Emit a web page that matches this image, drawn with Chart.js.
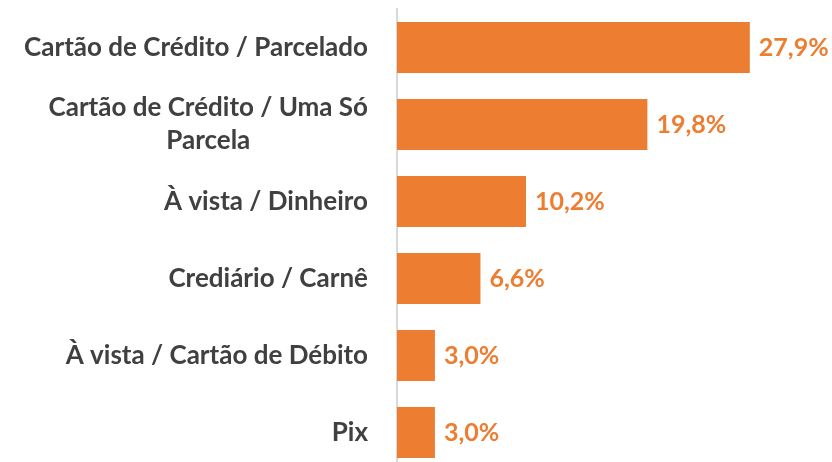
<!DOCTYPE html>
<html>
<head>
<meta charset="utf-8">
<script src="https://cdn.jsdelivr.net/npm/chart.js@4.4.1/dist/chart.umd.min.js"></script>
<style>
  html, body { margin: 0; padding: 0; background: #fff; overflow: hidden; }
  #wrap { position: relative; width: 832px; height: 471px; }
</style>
</head>
<body>
<div id="wrap"><canvas id="myChart"></canvas></div>
<script>
var categories = [
    'Cartão de Crédito / Parcelado',
    ['Cartão de Crédito / Uma Só', 'Parcela'],
    'À vista / Dinheiro',
    'Crediário / Carnê',
    'À vista / Cartão de Débito',
    'Pix'
];
var shares = [27.9, 19.8, 10.2, 6.6, 3.0, 3.0];

var FONT = 'bold 26px Lato';

// category names drawn next to the axis (two-line label centred on itself)
var catLabels = {
    id: 'catLabels',
    afterDraw: function(chart){
        var ctx = chart.ctx;
        var y = chart.scales.y;
        ctx.save();
        ctx.font = FONT;
        ctx.fillStyle = '#404040';
        ctx.textBaseline = 'middle';
        var right = 368;
        for (var i = 0; i < categories.length; i++) {
            var cy = y.getPixelForValue(i);
            var lab = categories[i];
            if (Array.isArray(lab)) {
                var w = ctx.measureText(lab[0]).width;
                var cx = right - w / 2;
                ctx.textAlign = 'center';
                var lh = 33;
                for (var j = 0; j < lab.length; j++) {
                    ctx.fillText(lab[j], cx, cy + (j - (lab.length - 1) / 2) * lh);
                }
            } else {
                ctx.textAlign = 'right';
                ctx.fillText(lab, right, cy);
            }
        }
        ctx.restore();
    }
};

// value labels at the end of each bar
var valueLabels = {
    id: 'valueLabels',
    afterDatasetsDraw: function(chart){
        var ctx = chart.ctx;
        var meta = chart.getDatasetMeta(0);
        ctx.save();
        ctx.font = 'bold 25px Lato';
        ctx.fillStyle = '#ED7D31';
        ctx.textAlign = 'left';
        ctx.textBaseline = 'middle';
        meta.data.forEach(function(bar, i){
            var txt = shares[i].toFixed(1).replace('.', ',') + '%';
            ctx.fillText(txt, bar.x + 9, bar.y);
        });
        ctx.restore();
    }
};

var ctx = document.getElementById('myChart').getContext('2d');
var myChart = new Chart(ctx, {
    type: 'bar',
    data: {
        labels: categories,
        datasets: [{
            data: shares,
            backgroundColor: '#ED7D31',
            borderWidth: 0,
            categoryPercentage: 1,
            barPercentage: 0.66
        }]
    },
    options: {
        indexAxis: 'y',
        responsive: true,
        maintainAspectRatio: false,
        animation: false,
        layout: { padding: { top: 9, right: 0, bottom: 0, left: 0 } },
        plugins: {
            legend: { display: false },
            tooltip: { enabled: false }
        },
        scales: {
            x: {
                display: false,
                min: 0,
                max: 34.4
            },
            y: {
                grid: { display: false },
                border: { display: true, color: '#d9d9d9', width: 2 },
                ticks: { display: false },
                afterFit: function(scale){ scale.width = 397; }
            }
        }
    },
    plugins: [catLabels, valueLabels]
});
</script>
</body>
</html>
